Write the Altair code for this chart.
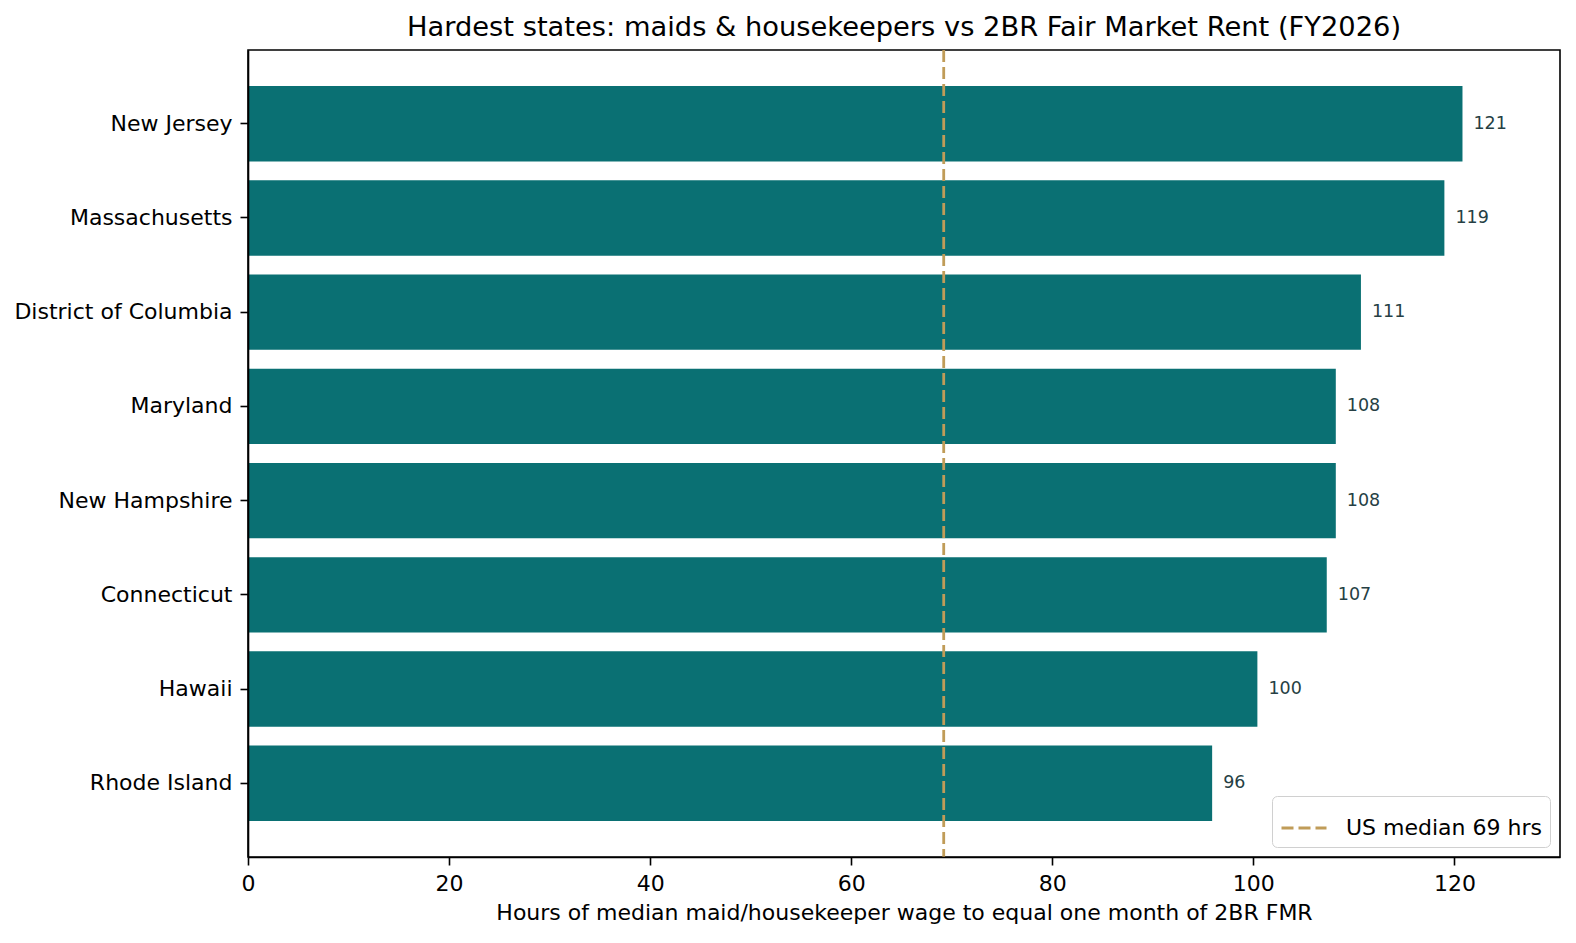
import altair as alt
import pandas as pd

# ---- data ----
states = ["New Jersey", "Massachusetts", "District of Columbia", "Maryland",
          "New Hampshire", "Connecticut", "Hawaii", "Rhode Island"]
hours = [120.8, 119.0, 110.7, 108.2, 108.2, 107.3, 100.4, 95.9]
us_median = 69.2
median_label = "US median 69 hrs"
x_ticks = [0, 20, 40, 60, 80, 100, 120]

TITLE = "Hardest states: maids & housekeepers vs 2BR Fair Market Rent (FY2026)"
XTITLE = "Hours of median maid/housekeeper wage to equal one month of 2BR FMR"

BAR = "#0a7073"
GOLD = "#c09c58"
LABEL = "#263f44"
FONT = "DejaVu Sans"

df = pd.DataFrame({"state": states, "hours": hours})
med = pd.DataFrame({"median": [us_median], "label": [median_label]})

xscale = alt.Scale(domain=[0, 130.5], nice=False, zero=False)
yscale = alt.Scale(paddingInner=0.2, paddingOuter=0.383)

base = alt.Chart(df)

bars = base.mark_bar(color=BAR).encode(
    x=alt.X("hours:Q", scale=xscale,
            axis=alt.Axis(values=x_ticks, format="d", grid=False, domain=True,
                          domainColor="black", domainWidth=1.6, tickColor="black",
                          tickWidth=1.6, tickSize=8, labelFontSize=22, labelFont=FONT,
                          labelColor="black", labelPadding=8, labelFlush=False,
                          title=XTITLE, titleFont=FONT, titleFontSize=22,
                          titleFontWeight="normal", titleColor="black",
                          titlePadding=8, zindex=1)),
    y=alt.Y("state:N", sort=states, scale=yscale,
            axis=alt.Axis(title=None, domain=True, domainColor="black", domainWidth=1.6,
                          tickColor="black", tickWidth=1.6, tickSize=8,
                          labelFontSize=22, labelFont=FONT, labelColor="black",
                          labelPadding=8, labelLimit=400, zindex=1)),
)

labels = base.mark_text(align="left", baseline="middle", dx=11, fontSize=17.5,
                        font=FONT, color=LABEL).encode(
    x=alt.X("hours:Q", scale=xscale),
    y=alt.Y("state:N", sort=states, scale=yscale),
    text=alt.Text("hours:Q", format=".0f"),
)

rule = alt.Chart(med).mark_rule(strokeDash=[12, 5], strokeWidth=2.8).encode(
    x=alt.X("median:Q", scale=xscale),
    color=alt.Color("label:N", scale=alt.Scale(range=[GOLD]),
                    legend=alt.Legend(title=None, orient="bottom-right", offset=10,
                                      symbolType="stroke", symbolSize=2025,
                                      symbolStrokeWidth=2.8, symbolDash=[12, 5],
                                      labelFontSize=22, labelFont=FONT,
                                      labelColor="black", labelOffset=18,
                                      labelLimit=500, padding=8, fillColor="white",
                                      strokeColor="#d0d0d0", cornerRadius=5)),
)

chart = alt.layer(bars, rule, labels).properties(
    width=1312, height=807,
    padding={"left": 240, "top": 42, "right": 8, "bottom": 78},
    autosize=alt.AutoSizeParams(type="none"),
    title=alt.TitleParams(TITLE, fontSize=27.3, font=FONT, fontWeight="normal",
                          color="black", anchor="middle", frame="group", offset=7),
).configure_view(stroke="black", strokeWidth=1.6)

chart.save("out.html", embed_options={"renderer": "svg", "actions": False})
